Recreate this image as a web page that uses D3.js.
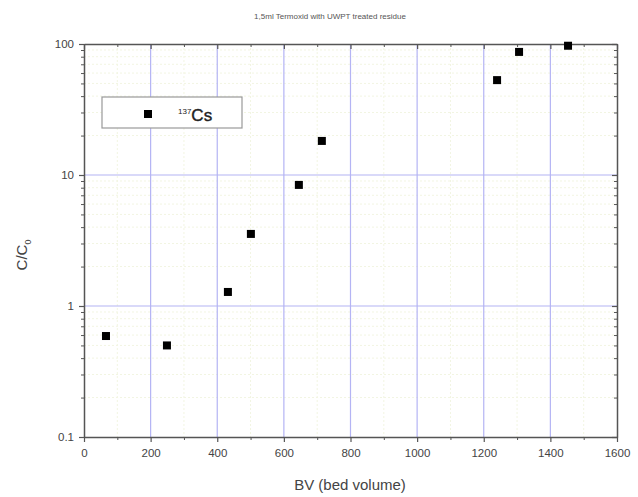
<!DOCTYPE html>
<html>
<head>
<meta charset="utf-8">
<script src="https://cdn.jsdelivr.net/npm/d3@7"></script>
<style>
  body { margin: 0; background: #fff; }
  svg { font-family: "Liberation Sans", Arial, sans-serif; }
</style>
</head>
<body>
<svg id="chart" width="638" height="497"></svg>
<script>
const bedVolume = [66, 249, 432, 501, 645, 714, 1240, 1306, 1453];
const ratio = [0.59, 0.50, 1.28, 3.55, 8.4, 18.2, 53, 87, 97];
const xTicks = [0, 200, 400, 600, 800, 1000, 1200, 1400, 1600];
const yTicks = [0.1, 1, 10, 100];

const svg = d3.select("#chart");
const plotL = 84, plotR = 617, plotT = 44, plotB = 437;

const x = d3.scaleLinear().domain([0, 1600]).range([plotL, plotR]);
const y = d3.scaleLog().domain([0.1, 100]).range([plotB, plotT]);

// minor values
const xMinor = d3.range(0, 1601, 100).filter(v => v % 200 !== 0);
const yMinor = [];
[0.1, 1, 10].forEach(d => { for (let k = 2; k <= 9; k++) yMinor.push(d * k); });

const g = svg.append("g");

// minor grid
g.selectAll(".mx").data(xMinor).enter().append("line")
  .attr("x1", d => x(d)).attr("x2", d => x(d))
  .attr("y1", plotT).attr("y2", plotB)
  .attr("stroke", "#f2f5e2").attr("stroke-width", 1).attr("stroke-dasharray", "2,2");
g.selectAll(".my").data(yMinor).enter().append("line")
  .attr("x1", plotL).attr("x2", plotR)
  .attr("y1", d => y(d)).attr("y2", d => y(d))
  .attr("stroke", "#f2f5e2").attr("stroke-width", 1).attr("stroke-dasharray", "2,2");

// major grid
g.selectAll(".gx").data(xTicks.slice(1, -1)).enter().append("line")
  .attr("x1", d => x(d)).attr("x2", d => x(d))
  .attr("y1", plotT).attr("y2", plotB)
  .attr("stroke", "#b4b4f4").attr("stroke-width", 1.2);
g.selectAll(".gy").data(yTicks.slice(1, -1)).enter().append("line")
  .attr("x1", plotL).attr("x2", plotR)
  .attr("y1", d => y(d)).attr("y2", d => y(d))
  .attr("stroke", "#b4b4f4").attr("stroke-width", 1.2);

// axes
const axisColor = "#555";
function styleAxis(sel) {
  sel.select(".domain").attr("stroke", axisColor).attr("stroke-width", 1.5);
  sel.selectAll(".tick line").attr("stroke", axisColor).attr("stroke-width", 1.2);
  sel.selectAll("text").attr("fill", "#444").attr("font-size", 11.5);
}
function minor(sel) {
  sel.select(".domain").remove();
  sel.selectAll("line").attr("stroke", axisColor);
}

const bottomAxis = svg.append("g").attr("transform", `translate(0,${plotB})`)
  .call(d3.axisBottom(x).tickValues(xTicks).tickFormat(d3.format("d")).tickSize(5).tickSizeOuter(0).tickPadding(7));
styleAxis(bottomAxis);
svg.append("g").attr("transform", `translate(0,${plotB})`)
  .call(d3.axisBottom(x).tickValues(xMinor).tickFormat("").tickSize(3).tickSizeOuter(0))
  .call(minor);

const leftAxis = svg.append("g").attr("transform", `translate(${plotL},0)`)
  .call(d3.axisLeft(y).tickValues(yTicks).tickFormat(d => String(d)).tickSize(5).tickSizeOuter(0).tickPadding(5));
styleAxis(leftAxis);
svg.append("g").attr("transform", `translate(${plotL},0)`)
  .call(d3.axisLeft(y).tickValues(yMinor).tickFormat("").tickSize(3).tickSizeOuter(0))
  .call(minor);

const topAxis = svg.append("g").attr("transform", `translate(0,${plotT})`)
  .call(d3.axisBottom(x).tickValues(xTicks).tickFormat("").tickSize(5).tickSizeOuter(0));
styleAxis(topAxis);
svg.append("g").attr("transform", `translate(0,${plotT})`)
  .call(d3.axisBottom(x).tickValues(xMinor).tickFormat("").tickSize(3).tickSizeOuter(0))
  .call(minor);

const rightAxis = svg.append("g").attr("transform", `translate(${plotR},0)`)
  .call(d3.axisLeft(y).tickValues(yTicks).tickFormat("").tickSize(5).tickSizeOuter(0));
styleAxis(rightAxis);
svg.append("g").attr("transform", `translate(${plotR},0)`)
  .call(d3.axisLeft(y).tickValues(yMinor).tickFormat("").tickSize(3).tickSizeOuter(0))
  .call(minor);

// points
svg.selectAll(".pt").data(bedVolume).enter().append("rect")
  .attr("x", d => x(d) - 4)
  .attr("y", (d, i) => y(ratio[i]) - 4)
  .attr("width", 8).attr("height", 8)
  .attr("fill", "#000");

// legend
const leg = svg.append("g");
leg.append("rect").attr("x", 102).attr("y", 97).attr("width", 140).attr("height", 31)
  .attr("fill", "#fff").attr("stroke", "#999").attr("stroke-width", 1.2);
leg.append("rect").attr("x", 144).attr("y", 110).attr("width", 8).attr("height", 8).attr("fill", "#000");
const lt = leg.append("text").attr("x", 178).attr("y", 121).attr("fill", "#222");
lt.append("tspan").attr("font-size", 8).attr("dy", -7).text("137");
lt.append("tspan").attr("font-size", 17).attr("dy", 7).attr("stroke", "#222").attr("stroke-width", 0.4).text("Cs");

// title and labels
svg.append("text").attr("x", 330).attr("y", 19).attr("text-anchor", "middle")
  .attr("font-size", 8).attr("fill", "#555").text("1,5ml Termoxid  with UWPT treated residue");

svg.append("text").attr("x", 350).attr("y", 490).attr("text-anchor", "middle")
  .attr("font-size", 15).attr("fill", "#444").text("BV (bed volume)");

const yl = svg.append("text").attr("transform", "translate(27,255) rotate(-90)")
  .attr("text-anchor", "middle").attr("fill", "#444").attr("font-size", 15);
yl.append("tspan").text("C/C");
yl.append("tspan").attr("font-size", 9).attr("dy", 4).text("0");
</script>
</body>
</html>
